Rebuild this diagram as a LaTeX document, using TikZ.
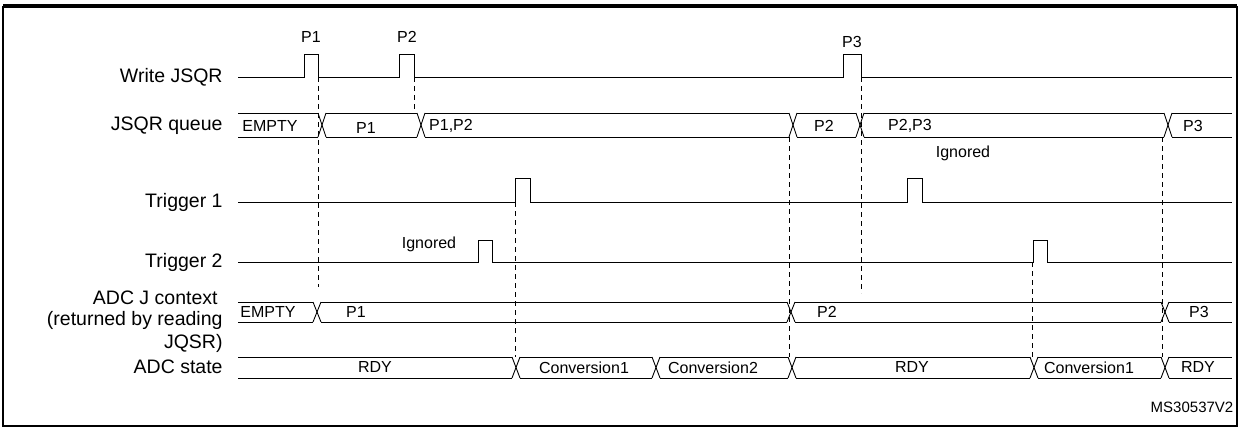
\documentclass[tikz,border=0pt]{standalone}
\usepackage{fontspec}
\setmainfont{Liberation Sans}
\begin{document}
\begin{tikzpicture}[x=1pt,y=-1pt,line width=0.9pt,
  lbl/.style={anchor=east,font=\fontsize{19.5}{21}\selectfont,inner sep=0pt},
  sig/.style={font=\fontsize{16}{17}\selectfont,inner sep=0pt},
  guide/.style={dashed,line width=0.8pt,dash pattern=on 5pt off 4pt}]
\useasboundingbox (0,0) rectangle (1240,428);
\draw[line width=1.5pt] (3,7) rectangle (1237,426);
\draw[line width=2pt] (3,5) -- (1237,5);
% labels
\node[lbl] (l1) at (223,77) {Write JSQR};
\node[lbl] (l2) at (223,126) {JSQR queue};
\node[lbl] (l3) at (223,202) {Trigger 1};
\node[lbl] (l4) at (223,262) {Trigger 2};
\node[lbl] (l5) at (218,298) {ADC J context};
\node[lbl] (l6) at (223,320) {(returned by reading};
\node[lbl] (l7) at (223,343) {JQSR)};
\node[lbl] (l8) at (223,367) {ADC state};
% Write JSQR
\draw (238,77) -| (304,54) -| (318,77) -| (399,54) -| (414,77) -| (843,54) -| (861,77) -- (1232,77);
\node[sig] (p1) at (311,37) {P1};
\node[sig] (p2) at (407,37) {P2};
\node[sig] (p3) at (852,42) {P3};
% Trigger 1
\draw (238,202) -| (515,178) -| (530,202) -| (907,178) -| (922,202) -- (1232,202);
% Trigger 2
\draw (238,262) -| (478,240) -| (492,262) -| (1033,240) -| (1047,262) -- (1232,262);
\node[sig] (ig1) at (963,153) {Ignored};
\node[sig] (ig2) at (429,244) {Ignored};
% buses
\def\busfn#1#2#3#4{%
  \foreach \a/\b in {#3} {
    \draw (\a,#1) -- (\b,#1);
    \draw (\a,#2) -- (\b,#2);
  }
  \foreach \t in {#4} {
    \draw (\t-4,#1) -- (\t+4,#2);
    \draw (\t-4,#2) -- (\t+4,#1);
  }
}
\busfn{113}{137}{238/318,326/417,425/789,797/856,864/1164,1172/1232}{322,421,793,860,1168}
\node[sig] (q1) at (270,126) {EMPTY};
\node[sig] (q2) at (366,128) {P1};
\node[sig] (q3) at (451,126) {P1,P2};
\node[sig] (q4) at (824,126) {P2};
\node[sig] (q5) at (910,126) {P2,P3};
\node[sig] (q6) at (1193,126) {P3};
\busfn{302}{322}{238/313,321/787,795/1161,1169/1232}{317,791,1165}
\node[sig] (c1) at (268,312) {EMPTY};
\node[sig] (c2) at (356,312) {P1};
\node[sig] (c3) at (827,312) {P2};
\node[sig] (c4) at (1199,312) {P3};
\busfn{357}{378}{238/512,520/652,660/788,796/1030,1038/1161,1169/1232}{516,656,792,1034,1165}
\node[sig] (s1) at (375,367) {RDY};
\node[sig] (s2) at (584,368) {Conversion1};
\node[sig] (s3) at (713,368) {Conversion2};
\node[sig] (s4) at (912,367) {RDY};
\node[sig] (s5) at (1089,368) {Conversion1};
\node[sig] (s6) at (1198,367) {RDY};
\node[font=\fontsize{15}{17}\selectfont,inner sep=0pt] (ms) at (1192,407) {MS30537V2};
% guides
\draw[guide] (318,77) -- (318,287);
\draw[guide] (414,77) -- (414,113);
\draw[guide] (515,202) -- (515,357);
\draw[guide] (789,137) -- (789,357);
\draw[guide] (861,77) -- (861,293);
\draw[guide] (1032,262) -- (1032,357);
\draw[guide] (1162,137) -- (1162,357);
\end{tikzpicture}
\end{document}
